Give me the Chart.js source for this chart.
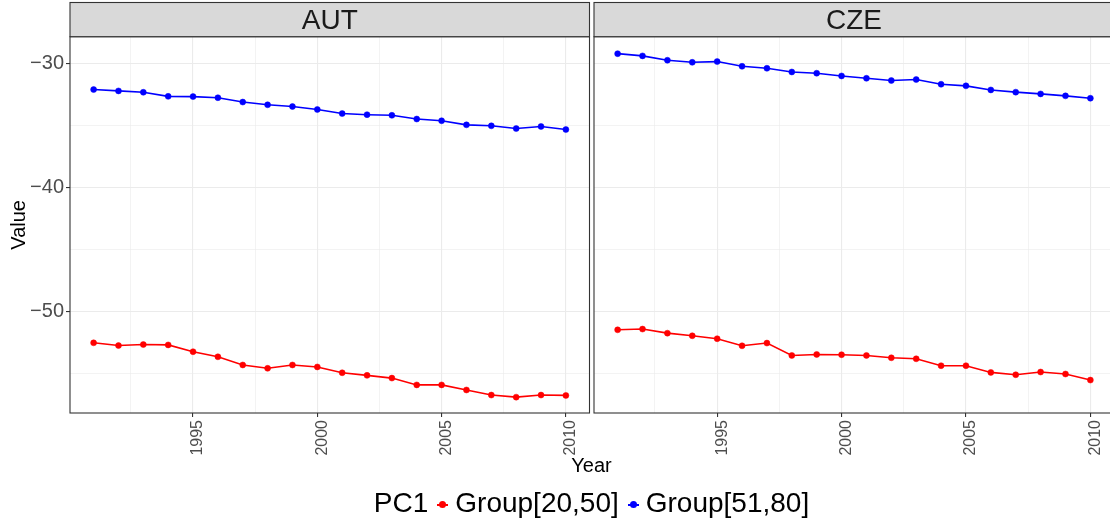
<!DOCTYPE html>
<html>
<head>
<meta charset="utf-8">
<script src="https://cdn.jsdelivr.net/npm/chart.js"></script>
<style>
  html, body { margin: 0; padding: 0; background: #fff; overflow: hidden; }
  #fig { position: relative; width: 1110px; height: 524px; overflow: hidden; background: #fff;
         font-family: "Liberation Sans", Arial, sans-serif; }
  #fig canvas { position: absolute; left: 0; top: 0; }
  #xtitle { position: absolute; left: 0; width: 1183px; top: 455px; line-height: 20px;
            text-align: center; font-size: 20px; color: #000; }
  #legend { position: absolute; left: 0; width: 1183px; top: 489px; line-height: 28px;
            text-align: center; font-size: 28px; color: #000; white-space: nowrap; }
  .key { display: inline-block; position: relative; width: 11px; height: 2px; margin: 0 7px 0 9px;
         vertical-align: middle; }
  .key i { position: absolute; left: 2px; top: -2.5px; width: 7px; height: 7px; border-radius: 50%; }
</style>
</head>
<body>
<div id="fig">
  <canvas id="aut" width="1110" height="524"></canvas>
  <canvas id="cze" width="1120" height="524"></canvas>
  <div id="xtitle">Year</div>
  <div id="legend"></div>
</div>
<script>
var years = [1991, 1992, 1993, 1994, 1995, 1996, 1997, 1998, 1999, 2000,
             2001, 2002, 2003, 2004, 2005, 2006, 2007, 2008, 2009, 2010];

// Group[20,50]
var autYoung = [-52.53, -52.75, -52.67, -52.70, -53.25, -53.66, -54.32, -54.59, -54.32, -54.48,
                -54.95, -55.16, -55.38, -55.93, -55.93, -56.34, -56.75, -56.92, -56.75, -56.78];
var czeYoung = [-51.48, -51.42, -51.75, -51.96, -52.20, -52.77, -52.55, -53.55, -53.47, -53.49,
                -53.55, -53.74, -53.82, -54.38, -54.38, -54.92, -55.11, -54.89, -55.05, -55.54];

// Group[51,80]
var autOld = [-32.07, -32.18, -32.29, -32.62, -32.64, -32.73, -33.08, -33.30, -33.44, -33.68,
              -34.01, -34.10, -34.15, -34.45, -34.59, -34.92, -35.00, -35.22, -35.05, -35.30];
var czeOld = [-29.17, -29.35, -29.70, -29.87, -29.81, -30.19, -30.35, -30.65, -30.75, -30.97,
              -31.16, -31.34, -31.26, -31.64, -31.77, -32.10, -32.28, -32.42, -32.58, -32.77];

var groups = ['Group[20,50]', 'Group[51,80]'];
var groupColors = ['#ff0000', '#0000ff'];
var xTicks = [1995, 2000, 2005, 2010];
var yTicks = [-30, -40, -50];

var FONT = '"Liberation Sans", Arial, sans-serif';

// strip on top + box round the panel, like facet_wrap with theme_bw
var facetFrame = {
    id: 'facetFrame',
    afterDraw: function (chart, args, opts) {
        var ctx = chart.ctx;
        var a = chart.chartArea;
        var top = 2.5;
        ctx.save();
        ctx.strokeStyle = '#333333';
        ctx.lineWidth = 1.1;
        ctx.strokeRect(a.left, a.top, a.right - a.left, a.bottom - a.top);
        ctx.fillStyle = '#d9d9d9';
        ctx.fillRect(a.left, top, a.right - a.left, a.top - top);
        ctx.strokeRect(a.left, top, a.right - a.left, a.top - top);
        ctx.fillStyle = '#1a1a1a';
        ctx.font = '28px ' + FONT;
        ctx.textAlign = 'center';
        ctx.textBaseline = 'middle';
        ctx.fillText(opts.title, (a.left + a.right) / 2, (a.top + top) / 2 + 1.5);
        ctx.restore();
    }
};

function series(values, i) {
    return {
        label: groups[i],
        data: years.map(function (y, k) { return {x: y, y: values[k]}; }),
        borderColor: groupColors[i],
        backgroundColor: groupColors[i],
        borderWidth: 1.6,
        pointRadius: 3,
        pointBorderWidth: 0.5,
        tension: 0
    };
}

function isMajor(list, v) {
    return list.indexOf(v) !== -1;
}

function facetChart(id, title, young, old, padding, showY) {
    return new Chart(document.getElementById(id), {
        type: 'line',
        data: {datasets: [series(young, 0), series(old, 1)]},
        options: {
            responsive: false,
            animation: false,
            events: [],
            layout: {padding: padding},
            plugins: {
                legend: {display: false},
                tooltip: {enabled: false},
                facetFrame: {title: title}
            },
            scales: {
                x: {
                    type: 'linear',
                    min: 1990.05,
                    max: 2010.95,
                    afterFit: function (s) { s.height = 60; },
                    border: {display: false},
                    grid: {
                        color: '#ebebeb',
                        lineWidth: function (c) { return isMajor(xTicks, c.tick.value) ? 1.1 : 0.6; },
                        tickLength: 4,
                        tickColor: function (c) { return isMajor(xTicks, c.tick.value) ? '#333333' : 'rgba(0,0,0,0)'; }
                    },
                    ticks: {
                        stepSize: 2.5,
                        includeBounds: false,
                        autoSkip: false,
                        minRotation: 90,
                        maxRotation: 90,
                        padding: 3,
                        labelOffset: 5,
                        color: '#4d4d4d',
                        font: {family: FONT, size: 16},
                        callback: function (v) { return isMajor(xTicks, v) ? String(v) : ''; }
                    }
                },
                y: {
                    min: -58.2,
                    max: -27.8,
                    afterFit: function (s) { s.width = showY ? 70 : 0; },
                    border: {display: false},
                    title: {
                        display: showY,
                        text: 'Value',
                        color: '#000',
                        font: {family: FONT, size: 20},
                        padding: {top: 7, bottom: 0}
                    },
                    grid: {
                        color: '#ebebeb',
                        lineWidth: function (c) { return isMajor(yTicks, c.tick.value) ? 1.1 : 0.6; },
                        drawTicks: showY,
                        tickLength: 4,
                        tickColor: function (c) { return isMajor(yTicks, c.tick.value) ? '#333333' : 'rgba(0,0,0,0)'; }
                    },
                    ticks: {
                        display: showY,
                        stepSize: 5,
                        includeBounds: false,
                        padding: 2,
                        color: '#4d4d4d',
                        font: {family: FONT, size: 20},
                        callback: function (v) { return isMajor(yTicks, v) ? '\u2212' + Math.abs(v) : ''; }
                    }
                }
            }
        },
        plugins: [facetFrame]
    });
}

facetChart('aut', 'AUT', autYoung, autOld, {left: 0, right: 520.5, top: 36.7, bottom: 51}, true);
facetChart('cze', 'CZE', czeYoung, czeOld, {left: 594, right: 6, top: 36.7, bottom: 51}, false);

var legendHtml = '<span>PC1</span>';
groups.forEach(function (g, i) {
    legendHtml += '<span class="key" style="background:' + groupColors[i] + '"><i style="background:' +
        groupColors[i] + '"></i></span><span>' + g + '</span>';
});
document.getElementById('legend').innerHTML = legendHtml;
</script>
</body>
</html>
